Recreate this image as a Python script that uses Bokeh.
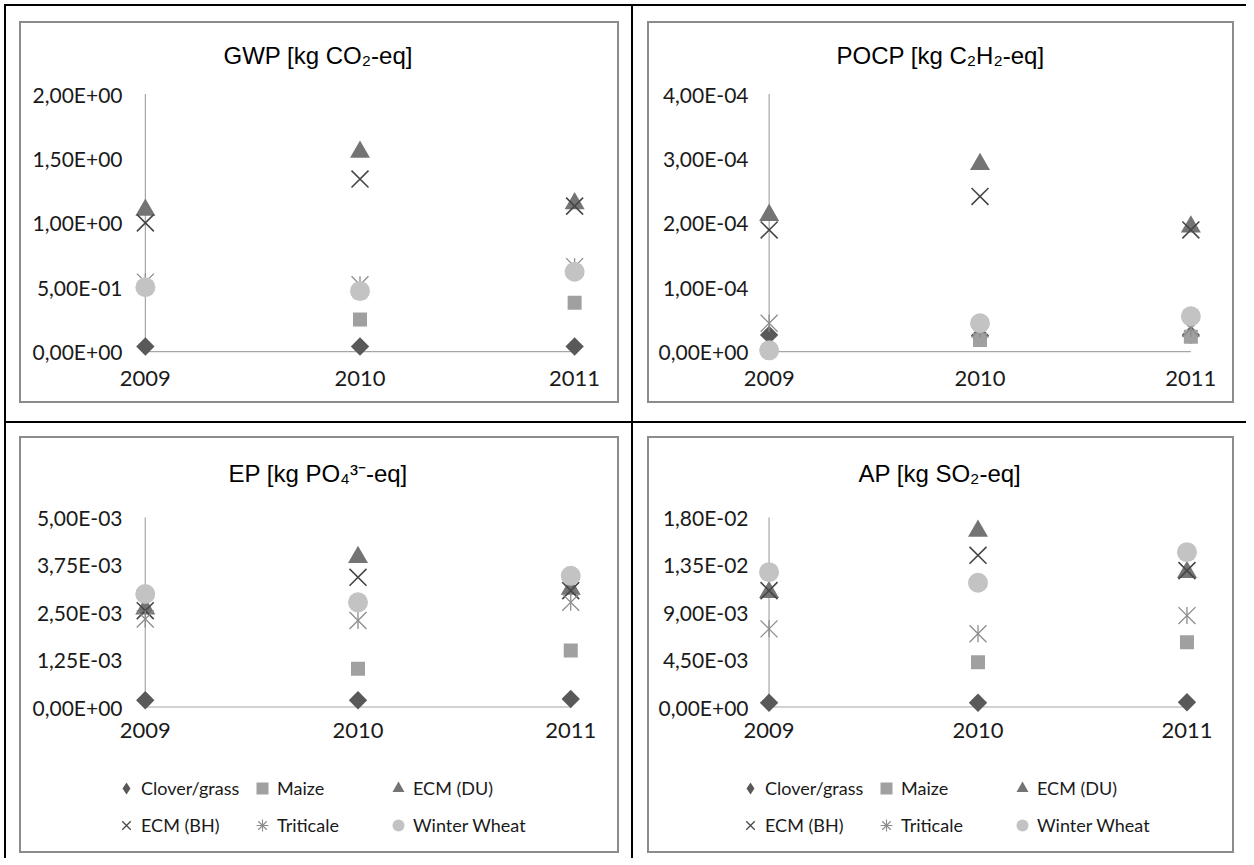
import math
from bokeh.plotting import figure
from bokeh.layouts import row, column
from bokeh.models import FixedTicker, Range1d, Legend, LegendItem, Title
from bokeh.embed import file_html
from bokeh.resources import INLINE

NaN = float("nan")

# ---------------- data ----------------
years = [2009, 2010, 2011]
year_labels = ["2009", "2010", "2011"]
series_names = ["Clover/grass", "Maize", "ECM (DU)", "ECM (BH)", "Triticale", "Winter Wheat"]

gwp_title = "GWP [kg CO\u2082-eq]"
gwp_ticks = [0.0, 0.5, 1.0, 1.5, 2.0]
gwp_tick_labels = ["0,00E+00", "5,00E-01", "1,00E+00", "1,50E+00", "2,00E+00"]
gwp_clover = [0.04, 0.04, 0.04]
gwp_maize = [NaN, 0.25, 0.38]
gwp_ecm_du = [1.10, 1.55, 1.15]
gwp_ecm_bh = [1.00, 1.34, 1.13]
gwp_triticale = [0.54, 0.52, 0.66]
gwp_wheat = [0.50, 0.47, 0.62]

pocp_title = "POCP [kg C\u2082H\u2082-eq]"
pocp_ticks = [0.0, 0.0001, 0.0002, 0.0003, 0.0004]
pocp_tick_labels = ["0,00E+00", "1,00E-04", "2,00E-04", "3,00E-04", "4,00E-04"]
pocp_clover = [0.000026, 0.000025, 0.000026]
pocp_maize = [NaN, 0.000018, 0.000023]
pocp_ecm_du = [0.000212, 0.000291, 0.000194]
pocp_ecm_bh = [0.000189, 0.000241, 0.000189]
pocp_triticale = [0.000044, 0.000035, 0.000036]
pocp_wheat = [0.000002, 0.000044, 0.000055]

ep_title = "EP [kg PO\u2084\u00b3\u207b-eq]"
ep_ticks = [0.0, 0.00125, 0.0025, 0.00375, 0.005]
ep_tick_labels = ["0,00E+00", "1,25E-03", "2,50E-03", "3,75E-03", "5,00E-03"]
ep_clover = [0.00018, 0.00018, 0.00021]
ep_maize = [NaN, 0.00101, 0.00149]
ep_ecm_du = [0.00259, 0.00395, 0.00311]
ep_ecm_bh = [0.00254, 0.00342, 0.00307]
ep_triticale = [0.00232, 0.00228, 0.00276]
ep_wheat = [0.00298, 0.00276, 0.00346]

ap_title = "AP [kg SO\u2082-eq]"
ap_ticks = [0.0, 0.0045, 0.009, 0.0135, 0.018]
ap_tick_labels = ["0,00E+00", "4,50E-03", "9,00E-03", "1,35E-02", "1,80E-02"]
ap_clover = [0.0004, 0.0004, 0.00045]
ap_maize = [NaN, 0.00426, 0.00616]
ap_ecm_du = [0.0109, 0.0167, 0.0128]
ap_ecm_bh = [0.01105, 0.0144, 0.01295]
ap_triticale = [0.00742, 0.00695, 0.00868]
ap_wheat = [0.0128, 0.0118, 0.0147]

# ---------------- styles ----------------
C_CLOVER, C_MAIZE, C_DU, C_BH, C_TRI, C_WHEAT = "#595959", "#a0a0a0", "#747474", "#474747", "#8c8c8c", "#c3c3c3"

# chart markers: each series may be built from several marker layers
chart_styles = [
    [dict(marker="square", size=13, angle=math.pi / 4, fill_color=C_CLOVER, line_color=None, line_width=1)],
    [dict(marker="square", size=14, angle=0, fill_color=C_MAIZE, line_color=None, line_width=1)],
    [dict(marker="triangle", size=20, angle=0, fill_color=C_DU, line_color=None, line_width=1)],
    [dict(marker="x", size=24, angle=0, fill_color=None, line_color=C_BH, line_width=1.6)],
    [dict(marker="x", size=24, angle=0, fill_color=None, line_color=C_TRI, line_width=1.3),
     dict(marker="dash", size=17, angle=math.pi / 2, fill_color=None, line_color=C_TRI, line_width=1.3)],
    [dict(marker="circle", size=20, angle=0, fill_color=C_WHEAT, line_color=None, line_width=1)],
]
# legend swatches (legend draws markers upright)
legend_styles = [
    [dict(marker="diamond", size=12, angle=0, fill_color=C_CLOVER, line_color=None, line_width=1)],
    [dict(marker="square", size=12, angle=0, fill_color=C_MAIZE, line_color=None, line_width=1)],
    [dict(marker="triangle", size=12, angle=0, fill_color=C_DU, line_color=None, line_width=1)],
    [dict(marker="x", size=12, angle=0, fill_color=None, line_color=C_BH, line_width=1.3)],
    [dict(marker="asterisk", size=12, angle=0, fill_color=None, line_color=C_TRI, line_width=1.1)],
    [dict(marker="circle", size=12, angle=0, fill_color=C_WHEAT, line_color=None, line_width=1)],
]

TICK_FONT = "Lato"
TITLE_FONT = "Liberation Sans"
GREY_BOX = "2px solid #8c8c8c"


def add_markers(p, xs, values, styles):
    out = []
    for name, vals, layers in zip(series_names, values, styles):
        rs = []
        for st in layers:
            rs.append(p.scatter(xs, vals, marker=st["marker"], size=st["size"], angle=st["angle"],
                                fill_color=st["fill_color"], line_color=st["line_color"],
                                line_width=st["line_width"]))
        out.append((name, rs))
    return out


def make_panel(title, title_offset, spacer, values, ticks, tick_labels, frame_w, frame_h,
               b_left, b_right, b_top, b_bottom, y_standoff, boxed):
    ymax = ticks[-1]
    p = figure(title=None, frame_width=frame_w, frame_height=frame_h,
               min_border_left=b_left, min_border_right=b_right,
               min_border_top=b_top, min_border_bottom=b_bottom,
               x_range=Range1d(years[0] - 0.06, years[-1] + 0.06),
               y_range=Range1d(-0.05 * ymax, 1.01 * ymax),
               output_backend="svg", toolbar_location=None,
               styles={"border": GREY_BOX} if boxed else {})
    p.outline_line_color = None
    p.grid.visible = False
    p.background_fill_color = "white"
    p.border_fill_color = "white"

    # spacer between frame and title, then the title itself
    p.add_layout(Title(text=" ", text_font_size="2px", standoff=spacer), "above")
    p.add_layout(Title(text=title, align="left", offset=title_offset, text_font=TITLE_FONT,
                       text_font_size="24px", text_font_style="normal", text_color="#000000",
                       standoff=20), "above")

    # axes lines drawn through data scales
    p.segment(x0=[years[0], years[0]], y0=[0, 0], x1=[years[-1], years[0]], y1=[0, ymax],
              line_color="#a6a6a6", line_width=1.2)

    add_markers(p, years, values, chart_styles)

    xa = p.xaxis[0]
    xa.ticker = FixedTicker(ticks=years)
    xa.major_label_overrides = {y: lab for y, lab in zip(years, year_labels)}
    xa.axis_line_color = None
    xa.major_tick_line_color = None
    xa.minor_tick_line_color = None
    xa.major_tick_out = 0
    xa.major_label_text_font = TICK_FONT
    xa.major_label_text_font_size = "22px"
    xa.major_label_text_color = "#1a1a1a"
    xa.major_label_standoff = 6

    ya = p.yaxis[0]
    ya.ticker = FixedTicker(ticks=ticks)
    ya.major_label_overrides = {t: lab for t, lab in zip(ticks, tick_labels)}
    ya.axis_line_color = None
    ya.major_tick_line_color = None
    ya.minor_tick_line_color = None
    ya.major_tick_out = 0
    ya.major_label_text_font = TICK_FONT
    ya.major_label_text_font_size = "21px"
    ya.major_label_text_color = "#1a1a1a"
    ya.major_label_standoff = y_standoff
    return p


def make_legend_strip(width, height, loc, values):
    # separate strip below the chart; its own ranges keep the markers off-view,
    # so only the legend swatches show.
    lf = figure(title=None, width=width, height=height, min_border=0,
                x_axis_location=None, y_axis_location=None,
                x_range=Range1d(0, 1), y_range=Range1d(0, 1),
                output_backend="svg", toolbar_location=None)
    lf.outline_line_color = None
    lf.grid.visible = False
    rs = add_markers(lf, years, values, legend_styles)
    items = [LegendItem(label=n, renderers=r) for n, r in rs]
    leg = Legend(items=items, orientation="horizontal", ncols=3,
                 location=loc, border_line_color=None,
                 background_fill_alpha=0, label_text_font=TICK_FONT,
                 label_text_font_size="18px", label_text_color="#1a1a1a",
                 glyph_width=30, glyph_height=30, label_standoff=0,
                 label_width=99, spacing=7, padding=0, margin=0)
    lf.add_layout(leg)
    return lf


ep_values = [ep_clover, ep_maize, ep_ecm_du, ep_ecm_bh, ep_triticale, ep_wheat]
ap_values = [ap_clover, ap_maize, ap_ecm_du, ap_ecm_bh, ap_triticale, ap_wheat]

p1 = make_panel(gwp_title, 91, 9,
                [gwp_clover, gwp_maize, gwp_ecm_du, gwp_ecm_bh, gwp_triticale, gwp_wheat],
                gwp_ticks, gwp_tick_labels, 451, 269, 111, 34, 68, 41, 10, True)
p2 = make_panel(pocp_title, 80, 9,
                [pocp_clover, pocp_maize, pocp_ecm_du, pocp_ecm_bh, pocp_triticale, pocp_wheat],
                pocp_ticks, pocp_tick_labels, 443, 269, 107, 33, 68, 41, 8, True)
p3 = make_panel(ep_title, 96, 15, ep_values,
                ep_ticks, ep_tick_labels, 451, 201, 111, 34, 77, 44, 10, False)
p4 = make_panel(ap_title, 102, 15, ap_values,
                ap_ticks, ap_tick_labels, 443, 201, 107, 33, 77, 44, 8, False)
l3 = make_legend_strip(596, 91, (90, 11), ep_values)
l4 = make_legend_strip(583, 91, (86, 11), ap_values)

B = "2px solid #000000"
c1 = column(p1, styles={"border-left": B, "border-top": B, "border-right": B, "border-bottom": B,
                        "padding": "15px 12px 18px 13px"})
c2 = column(p2, styles={"border-top": B, "border-bottom": B,
                        "padding": "15px 12px 18px 14px"})
box3 = column(p3, row(l3), spacing=0, styles={"border": GREY_BOX})
box4 = column(p4, row(l4), spacing=0, styles={"border": GREY_BOX})
c3 = column(box3, styles={"border-left": B, "border-right": B,
                          "padding": "13px 12px 5px 13px"})
c4 = column(box4, styles={"padding": "13px 12px 5px 14px"})

root = column(row(c1, c2), row(c3, c4), styles={"margin-left": "4px", "margin-top": "4px"})

with open("out.html", "w") as f:
    f.write(file_html(root, INLINE))
